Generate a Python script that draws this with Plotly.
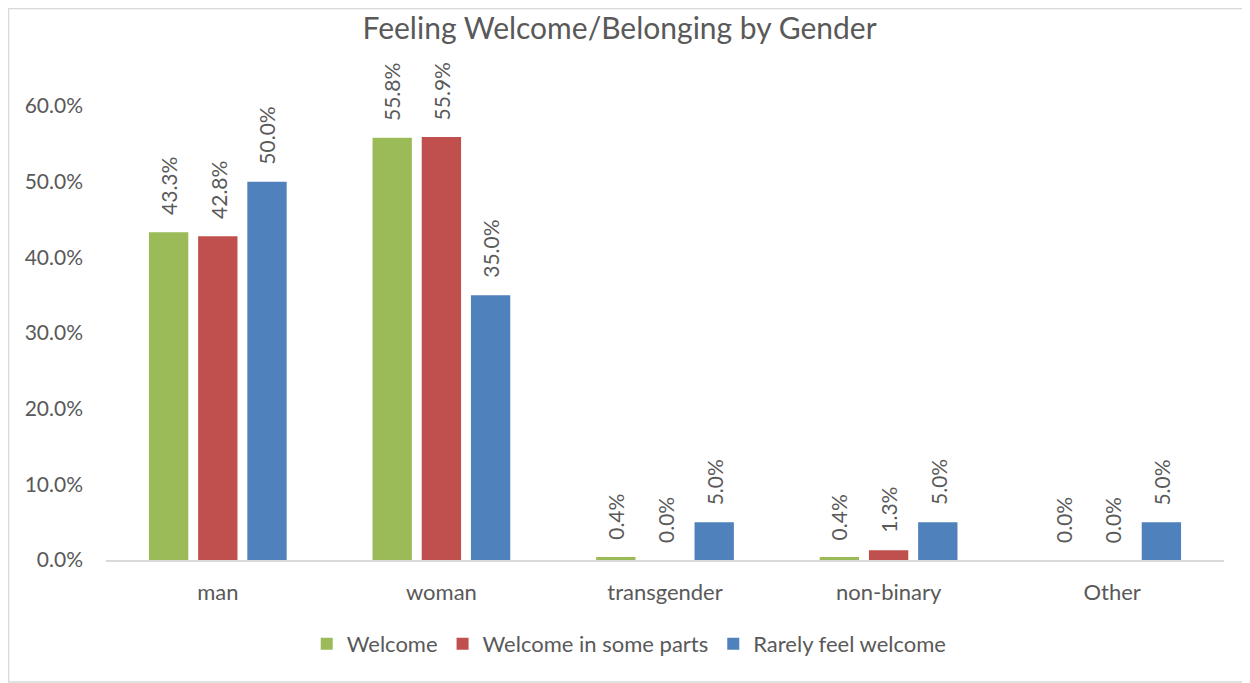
import plotly.graph_objs as go

genders = ["man", "woman", "transgender", "non-binary", "Other"]
welcome = [0.433, 0.558, 0.004, 0.004, 0.0]
some_parts = [0.428, 0.559, 0.0, 0.013, 0.0]
rarely = [0.50, 0.35, 0.05, 0.05, 0.05]

series = [
    ("Welcome", welcome, "#9BBB59"),
    ("Welcome in some parts", some_parts, "#C0504D"),
    ("Rarely feel welcome", rarely, "#4F81BD"),
]

font_family = "Lato, 'Open Sans', sans-serif"
grey = "#595959"

# the page puts the figure 8px in from the top-left corner
W, H = 1242, 675
L, R, T, B = 98, 26, 98, 123
pw, ph = W - L - R, H - T - B
bargap = 0.34
slot = pw / len(genders) * (1 - bargap) / len(series)

def px_y(y):
    return (H - B - y) / ph

fig = go.Figure()
for i, (name, vals, color) in enumerate(series):
    fig.add_trace(go.Bar(
        x=genders, y=vals, name=name,
        marker=dict(color=color, line=dict(width=0)),
    ))
    # rotated value labels above each bar
    for g, v in zip(genders, vals):
        fig.add_annotation(
            x=g, y=v, text=f"{v*100:.1f}%", showarrow=False,
            textangle=-90, xanchor="center", yanchor="bottom",
            xshift=(i - 1) * slot, yshift=15,
            font=dict(size=21, color=grey, family=font_family),
        )

fig.update_layout(
    width=W, height=H,
    margin=dict(l=L, r=R, t=T, b=B),
    paper_bgcolor="white", plot_bgcolor="white",
    barmode="group", bargap=bargap, bargroupgap=0.2,
    title=dict(text="Feeling Welcome/Belonging by Gender", x=0.4924, xanchor="center",
               y=1 - 20 / H, yanchor="middle",
               font=dict(size=30, color=grey, family=font_family)),
    font=dict(family=font_family, color=grey),
    legend=dict(orientation="h", x=0.468, xanchor="center", y=px_y(636), yanchor="middle",
                font=dict(size=22, color=grey), itemwidth=30, traceorder="normal"),
    xaxis=dict(showline=True, linecolor="#D9D9D9", linewidth=2, ticks="",
               tickfont=dict(size=22, color=grey), ticklabelstandoff=12, fixedrange=True),
    yaxis=dict(range=[0, 0.6], dtick=0.1, tickformat=".1%", showgrid=False,
               zeroline=False, showline=False, ticks="",
               tickfont=dict(size=21, color=grey), ticklabelstandoff=22),
    shapes=[dict(type="rect", xref="paper", yref="paper",
                 x0=-L / pw + 0.5 / pw, x1=(1237 - L) / pw, y0=px_y(674), y1=px_y(0.5),
                 line=dict(color="#D9D9D9", width=1.5), fillcolor="rgba(0,0,0,0)",
                 layer="below")],
)

fig.write_html("out.html")
